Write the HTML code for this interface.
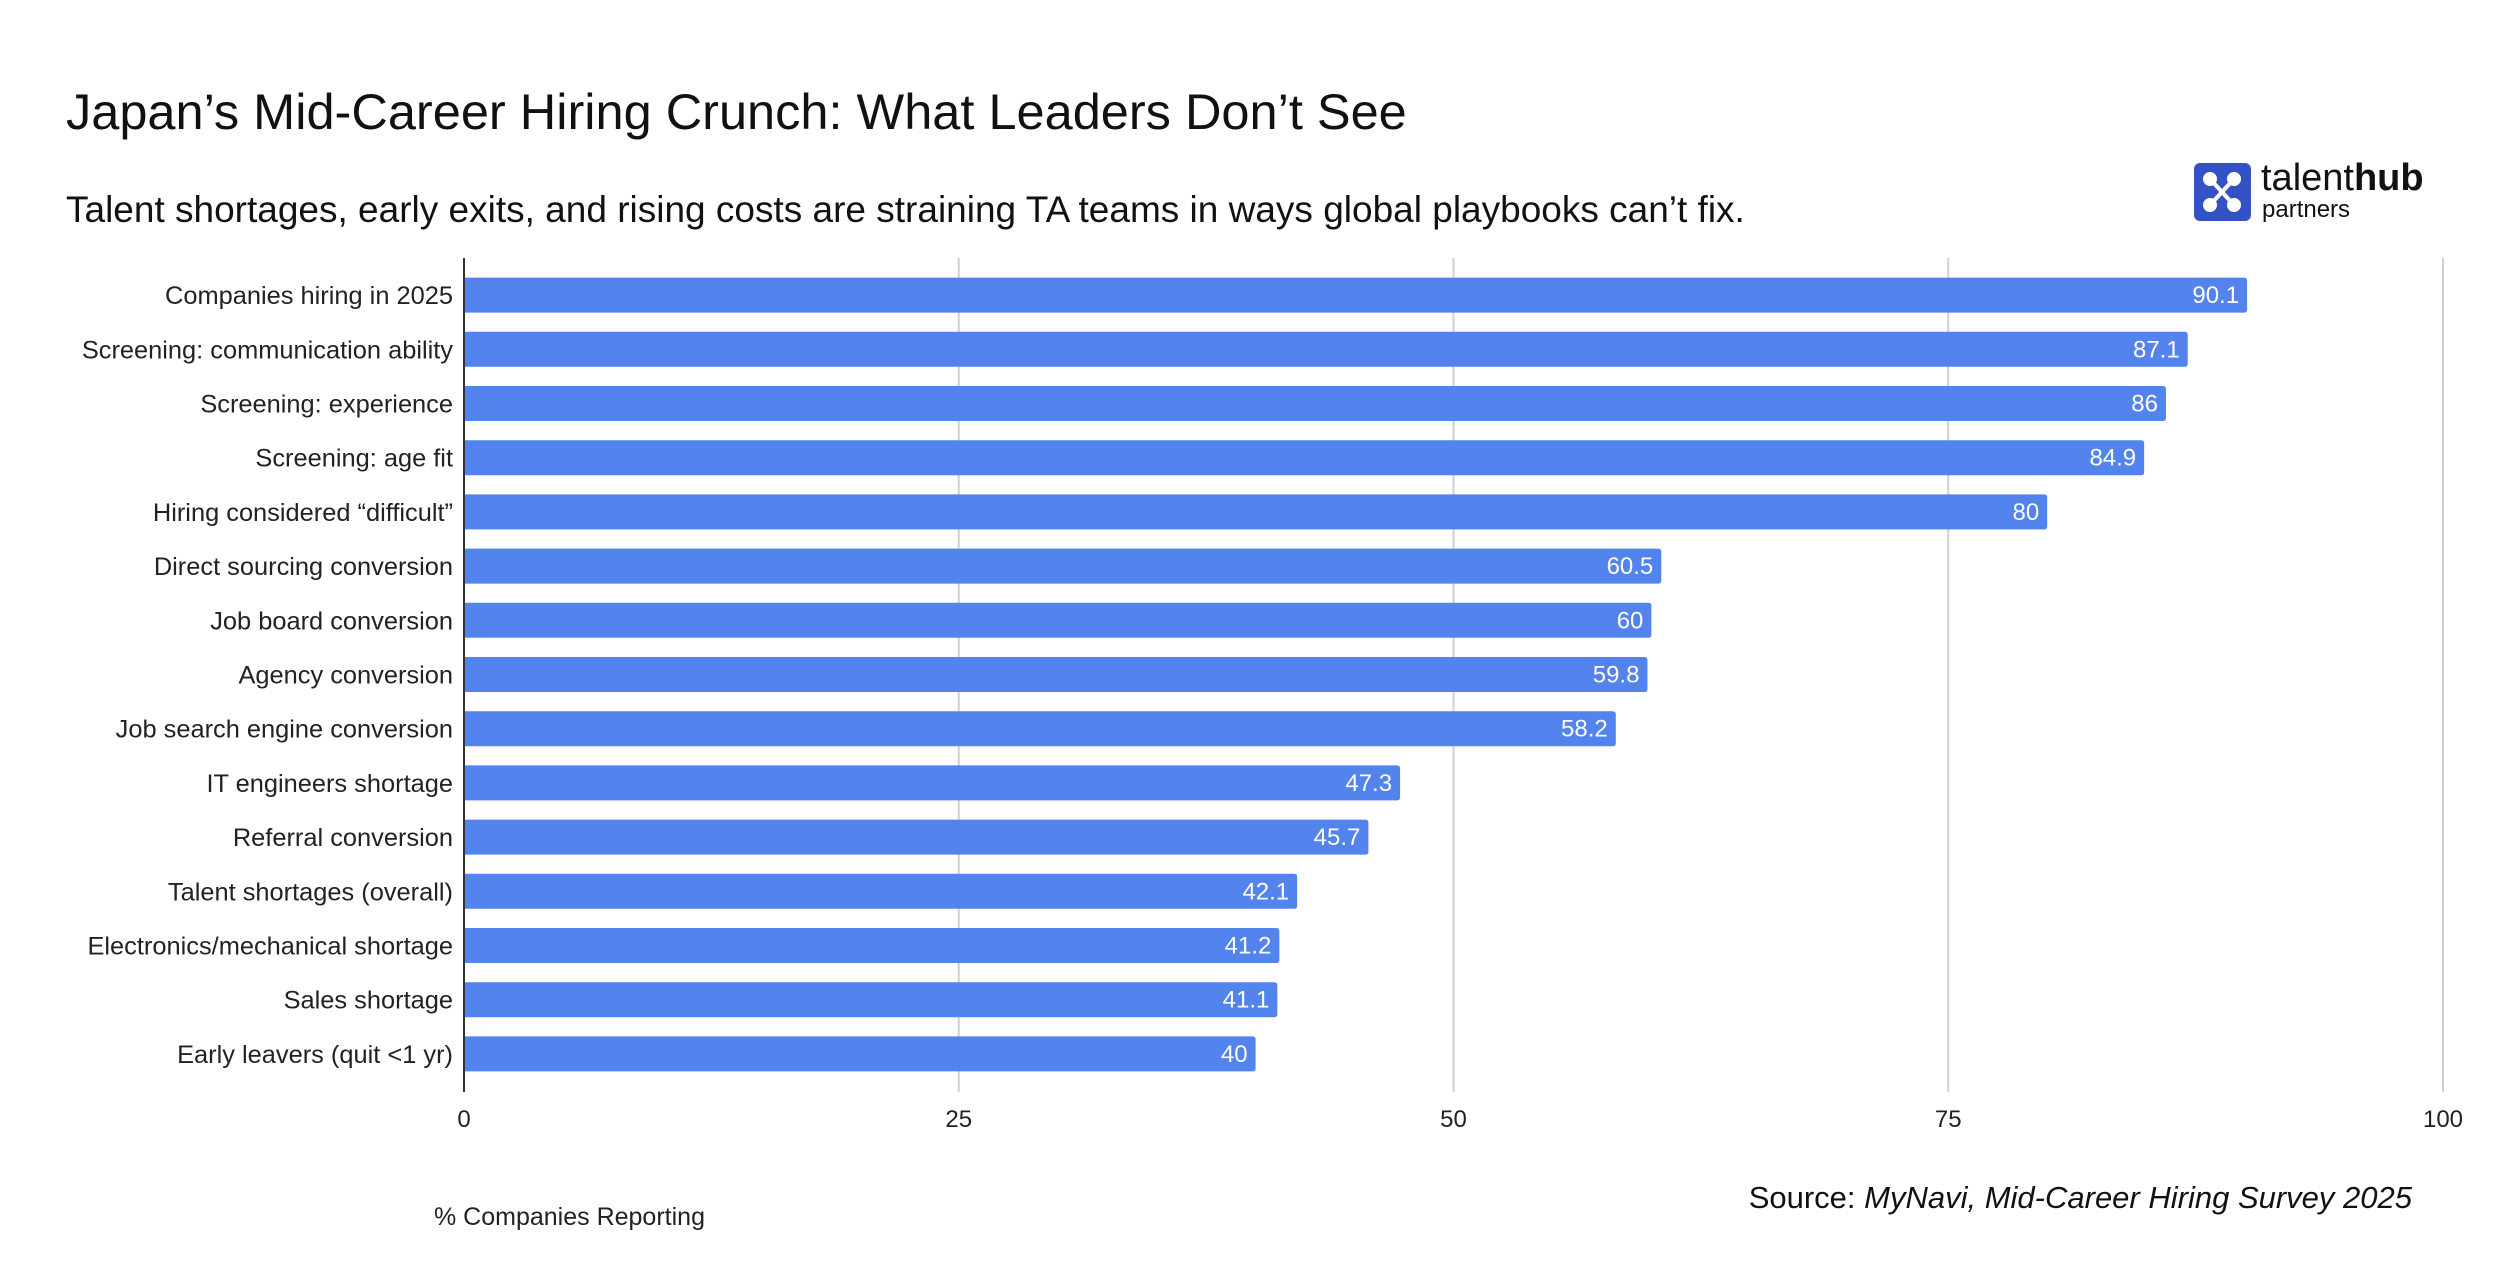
<!DOCTYPE html>
<html><head><meta charset="utf-8">
<style>
html,body{margin:0;padding:0;background:#fff;}
body{width:2500px;height:1261px;position:relative;overflow:hidden;font-family:"Liberation Sans",sans-serif;}
.abs{position:absolute;white-space:nowrap;}
</style></head>
<body>
<div class="abs" style="left:66px;top:82px;font-size:50.5px;color:#111;">Japan’s Mid-Career Hiring Crunch: What Leaders Don’t See</div>
<div class="abs" style="left:66px;top:189px;font-size:37px;color:#111;">Talent shortages, early exits, and rising costs are straining TA teams in ways global playbooks can’t fix.</div>
<div class="abs" style="left:2194px;top:163px;width:300px;height:60px;">
  <svg width="57" height="58" viewBox="0 0 57 58" style="position:absolute;left:0;top:0">
    <rect x="0" y="0" width="57" height="58" rx="6" fill="#3352c4"/>
    <g stroke="#fff" stroke-width="4" fill="#fff">
      <line x1="16" y1="16" x2="28" y2="29"/><line x1="40" y1="16" x2="28" y2="29"/>
      <line x1="16" y1="42" x2="28" y2="29"/><line x1="40" y1="42" x2="28" y2="29"/>
      <circle cx="16" cy="16" r="5"/><circle cx="40" cy="16" r="5"/><circle cx="16" cy="42" r="5"/><circle cx="40" cy="42" r="5"/>
    </g>
  </svg>
  <div class="abs" style="left:67px;top:-6px;font-size:38px;color:#111;">talent<b>hub</b></div>
  <div class="abs" style="left:68px;top:33px;font-size:24px;color:#111;">partners</div>
</div>
<svg id="chart" width="2500" height="1261" style="position:absolute;left:0;top:0"></svg>
<div class="abs" style="left:434px;top:1203px;font-size:25px;color:#222;">% Companies Reporting</div>
<div class="abs" style="right:88px;top:1180px;font-size:31px;color:#111;">Source: <i>MyNavi, Mid-Career Hiring Survey 2025</i></div>
<script>
const categories=["Companies hiring in 2025","Screening: communication ability","Screening: experience","Screening: age fit","Hiring considered “difficult”","Direct sourcing conversion","Job board conversion","Agency conversion","Job search engine conversion","IT engineers shortage","Referral conversion","Talent shortages (overall)","Electronics/mechanical shortage","Sales shortage","Early leavers (quit <1 yr)"];
const values=[90.1,87.1,86,84.9,80,60.5,60,59.8,58.2,47.3,45.7,42.1,41.2,41.1,40];
const ticks=[0,25,50,75,100];
const NS="http://www.w3.org/2000/svg";
const svgEl=document.getElementById('chart');
const x0=464,x1=2443,yTop=268,yBottom=1081,gTop=258,gBottom=1092;
const xs=v=>x0+(v-0)/(100-0)*(x1-x0);
const step=(yBottom-yTop)/categories.length;
const ys=i=>yTop+step*(i+0.5);
const bh=35;
function mk(t,a){const e=document.createElementNS(NS,t);for(const k in a)e.setAttribute(k,a[k]);svgEl.appendChild(e);return e;}
ticks.forEach(t=>{
  if(t>0){const g=mk('line',{x1:xs(t),x2:xs(t),y1:gTop,y2:gBottom,stroke:'#d0d0d0','stroke-width':2});
  
  }
  const l=mk('text',{x:xs(t),y:1127,'text-anchor':'middle','font-size':24,fill:'#222','font-family':'Liberation Sans, sans-serif'});
  l.textContent=t;
  
  
});
categories.forEach((c,i)=>{
  const y=ys(i);
  const xe=xs(values[i]);
  const r=mk('path',{d:`M${x0},${y-bh/2}H${xe-3}Q${xe},${y-bh/2} ${xe},${y-bh/2+3}V${y+bh/2-3}Q${xe},${y+bh/2} ${xe-3},${y+bh/2}H${x0}Z`,fill:'#5383ec'});
  
  
  const v=mk('text',{x:xe-8,y:y+8,'text-anchor':'end','font-size':24,fill:'#fff','font-family':'Liberation Sans, sans-serif'});
  v.textContent=values[i];
  
  
  const l=mk('text',{x:453,y:y+9,'text-anchor':'end','font-size':25.4,fill:'#222','font-family':'Liberation Sans, sans-serif'});
  l.textContent=c;
  
  
});
const ax=mk('line',{x1:x0,x2:x0,y1:gTop,y2:gBottom,stroke:'#333','stroke-width':2});


</script>
</body></html>
